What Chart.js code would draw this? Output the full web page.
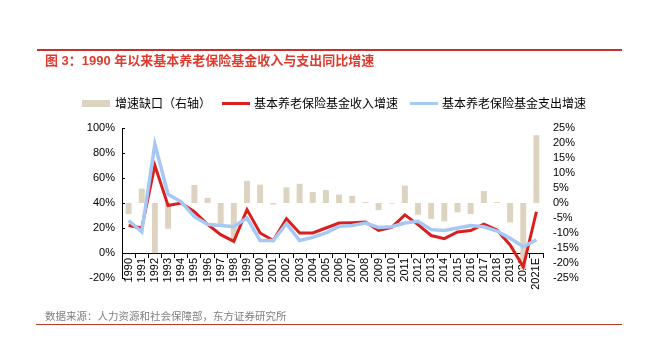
<!DOCTYPE html>
<html>
<head>
<meta charset="utf-8">
<script src="https://cdn.jsdelivr.net/npm/chart.js@4/dist/chart.umd.min.js"></script>
<style>
  html, body { margin:0; padding:0; background:#fff; }
  #wrap { position:relative; width:646px; height:357px; overflow:hidden; font-family:"Liberation Sans", Arial, "Noto Sans CJK SC", sans-serif; }
  #c { position:absolute; left:0; top:0; }
  .abs { position:absolute; white-space:nowrap; }
  #topline { left:37px; top:49px; width:585px; height:1.5px; background:#c9302c; }
  #title { left:45px; top:52px; font-size:13px; line-height:17px; color:#e03a2f; font-weight:bold; }
  #botline { left:36px; top:323.5px; width:586px; height:1.5px; background:#c0392b; }
  #foot { left:45px; top:309px; font-size:10.5px; line-height:14px; color:#808080; }
  .lg { font-size:12px; line-height:16px; color:#000; top:95.5px; }
</style>
</head>
<body>
<div id="wrap">
  <canvas id="c" width="646" height="357"></canvas>
  <div class="abs" id="topline"></div>
  <div class="abs" id="title">图 3：1990 年以来基本养老保险基金收入与支出同比增速</div>
  <div class="abs" style="left:82px;top:100px;width:28px;height:7px;background:#dcd3c0;"></div>
  <div class="abs lg" style="left:115px;">增速缺口（右轴）</div>
  <div class="abs" style="left:222px;top:102px;width:28px;height:3px;background:#d8201f;"></div>
  <div class="abs lg" style="left:254px;">基本养老保险基金收入增速</div>
  <div class="abs" style="left:410px;top:102px;width:28px;height:3px;background:#a6c8f5;"></div>
  <div class="abs lg" style="left:442px;">基本养老保险基金支出增速</div>
  <div class="abs" id="foot">数据来源：人力资源和社会保障部，东方证券研究所</div>
  <div class="abs" id="botline"></div>
</div>
<script>
const categories = ['1990','1991','1992','1993','1994','1995','1996','1997','1998','1999','2000','2001','2002','2003','2004','2005','2006','2007','2008','2009','2010','2011','2012','2013','2014','2015','2016','2017','2018','2019','2020','2021E'];
const incomeGrowth = [22,20,70,38,40,33,23,14.7,9.3,34.7,16,10,27.5,16,16,20,24,24.3,24.8,18,20.5,30.5,22.7,14,11.5,16.8,18,23,18.4,6.4,-11,33];
const expenseGrowth = [26,17,87,47,41,29,23,22,21,28,10,10,23.5,10,12.5,16,21.3,22,24,20.5,21,24,25.3,18.7,18,20,22,21,17.6,11.7,5,10.5];
const growthGap = [-3.7,4.8,-16.7,-8.6,-0.4,6,1.7,-7.2,-12.2,7.4,6.1,-0.5,5.2,6.4,3.7,4.3,2.8,2.4,0.3,-2.4,-0.2,5.8,-3.9,-5.3,-6.1,-3.1,-3.7,4,0.3,-6.5,-22,22.6];
const leftTicks = {min:-20, max:100, step:20};
const rightTicks = {min:-25, max:25, step:5};

const FONT = '"Liberation Sans", Arial, sans-serif';

const innerTicks = {
  id:'innerTicks',
  afterDraw(chart){
    const s = chart.scales.y, ctx = chart.ctx, x0 = chart.chartArea.left;
    ctx.save();
    ctx.strokeStyle = '#000'; ctx.lineWidth = 1;
    s.ticks.forEach(t => {
      const py = Math.round(s.getPixelForValue(t.value)) + 0.5;
      ctx.beginPath(); ctx.moveTo(x0, py); ctx.lineTo(x0 + 3, py); ctx.stroke();
    });
    ctx.restore();
  }
};

new Chart(document.getElementById('c'), {
  data: {
    labels: categories,
    datasets: [
      { type:'bar', label:'增速缺口（右轴）', data: growthGap, yAxisID:'y1', backgroundColor:'#dcd3c0', barPercentage:0.9, categoryPercentage:0.5, order:3 },
      { type:'line', label:'基本养老保险基金收入增速', data: incomeGrowth, yAxisID:'y', borderColor:'#d8201f', borderWidth:3, pointRadius:0, tension:0, fill:false, order:2 },
      { type:'line', label:'基本养老保险基金支出增速', data: expenseGrowth, yAxisID:'y', borderColor:'#a6c8f5', borderWidth:3.5, pointRadius:0, tension:0, fill:false, order:1 }
    ]
  },
  options: {
    responsive:false,
    animation:false,
    devicePixelRatio:1,
    layout:{ padding:{ left:0, right:0, top:128, bottom:79 } },
    plugins:{ legend:{ display:false }, tooltip:{ enabled:false } },
    scales:{
      x:{
        position:{ y:0 },
        offset:true,
        grid:{ display:true, drawOnChartArea:false, drawTicks:true, tickLength:4, color:'#000', offset:true },
        border:{ display:true, color:'#000', width:1 },
        ticks:{ autoSkip:false, maxRotation:90, minRotation:90, padding:1, color:'#000', font:{ family:FONT, size:11 } }
      },
      y:{
        position:'left',
        min:leftTicks.min, max:leftTicks.max,
        grid:{ display:false, drawTicks:false },
        border:{ display:true, color:'#000', width:1 },
        ticks:{ autoSkip:false, stepSize:leftTicks.step, padding:7, color:'#000', font:{ family:FONT, size:11 }, callback:v => v + '%' },
        afterFit(scale){ scale.width = 122; }
      },
      y1:{
        position:'right',
        min:rightTicks.min, max:rightTicks.max,
        grid:{ display:false, drawTicks:false },
        border:{ display:false },
        ticks:{ autoSkip:false, stepSize:rightTicks.step, padding:10, color:'#000', font:{ family:FONT, size:11 }, callback:v => v + '%' },
        afterFit(scale){ scale.width = 103; }
      }
    }
  },
  plugins:[innerTicks]
});
</script>
</body>
</html>
